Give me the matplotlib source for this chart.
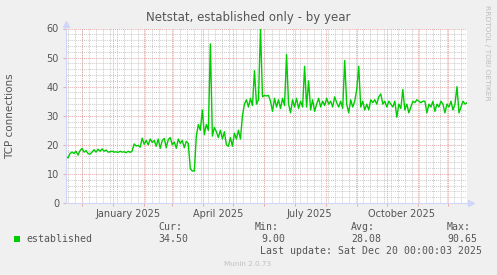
import matplotlib
matplotlib.use('Agg')
import matplotlib.pyplot as plt
from matplotlib.patches import Rectangle
from matplotlib.lines import Line2D
import numpy as np
import pandas as pd

# ---------------- data ----------------
start_date = "2024-11-15"
end_date = "2025-12-20"
step_days = 2
established = [
    16, 15.5, 17, 17.5, 17, 17.8, 16.5, 18, 18.8, 17.5,
    18, 17, 16.8, 17.5, 18.3, 17.5, 18.5, 17.8, 18.6, 17.8,
    18.2, 17.5, 17.6, 17.8, 17.5, 17.6, 17.4, 17.8, 17.5, 17.6,
    17.3, 17.8, 17.4, 17.9, 20.3, 19.6, 19.8, 19.2, 22.3, 20.2,
    21.5, 20, 22, 20.8, 21.5, 19.5, 22, 18.8, 21.5, 22.2,
    19, 21.8, 22.5, 20, 21, 18.8, 22, 20.5, 21.5, 19,
    21.2, 20.5, 11.8, 11, 11, 23, 27, 25, 32, 23.5,
    27, 25, 54.7, 23, 26, 24.5, 22.5, 25, 22, 24.5,
    20, 19.5, 22.5, 19.5, 24, 22, 25, 22, 30, 34,
    35.5, 33, 36, 33.5, 45.5, 34, 35.5, 60, 36.5, 37,
    36.8, 37, 35, 31.5, 36, 33, 35.5, 32.5, 36, 33.5,
    51, 34, 31, 35.5, 33, 36, 32.5, 35, 33, 47,
    33, 42, 32, 35.5, 31.5, 34, 36, 33, 35, 33.5,
    36, 34, 35, 33, 36.5, 34.5, 33, 35, 32.5, 49,
    34, 31, 35.5, 33, 35, 39, 47, 33, 35, 32,
    34, 32, 35.5, 34.5, 35.5, 34, 36.5, 37.5, 34, 35,
    33, 35, 34, 33, 35, 29.5, 34, 32.5, 39, 32,
    34, 31, 33, 35, 34.5, 35.5, 35, 34.5, 35, 35,
    31, 34, 33, 35, 31.5, 34, 33, 35, 34, 31,
    34, 33, 35, 32, 34, 40, 31, 33, 35, 34, 34.5,
]
title = "Netstat, established only - by year"
ylabel = "TCP connections"
x_labels = ["January 2025", "April 2025", "July 2025", "October 2025"]
x_label_dates = ["2025-01-16", "2025-04-16", "2025-07-16", "2025-10-16"]
y_ticks = [0, 10, 20, 30, 40, 50, 60]
legend_name = "established"
stat_names = ["Cur:", "Min:", "Avg:", "Max:"]
stat_values = ["34.50", "9.00", "28.08", "90.65"]
last_update = "Last update: Sat Dec 20 00:00:03 2025"
footer = "Munin 2.0.73"
side_text = "RRDTOOL / TOBI OETIKER"

# ---------------- layout ----------------
W, H = 497, 275
def fx(px): return px / W
def fy(py): return 1 - py / H

BACK = '#F0F0F0'
AXIS = '#CFD6F8'
FONT = '#555555'
GREEN = '#00CC00'
MGRID = '#E8A8A8'
GRID = '#CACACA'

fig = plt.figure(figsize=(W / 100, H / 100), dpi=100, facecolor=BACK)
ax = fig.add_axes([fx(66), fy(203), fx(467) - fx(66), fy(28.5) - fy(203)])
ax.set_facecolor('white')

dates = pd.date_range(start_date, end_date, freq=f"{step_days}D")
assert len(dates) == len(established)
t0, t1 = pd.Timestamp(start_date), pd.Timestamp(end_date)

dot = (0, (1, 1))
# vertical grid
for d in pd.date_range(t0, t1, freq='W-SUN'):
    ax.axvline(d, color=GRID, lw=0.7, ls=dot, zorder=1)
for d in pd.date_range('2024-12-01', t1, freq='MS'):
    ax.axvline(d, color=MGRID, lw=0.7, ls=dot, zorder=2)
# horizontal grid
for v in np.arange(0, 61, 2):
    if v % 10:
        ax.axhline(v, color=GRID, lw=0.7, ls=dot, zorder=1)
for v in y_ticks[1:]:
    ax.axhline(v, color=MGRID, lw=0.7, ls=dot, zorder=2)

ax.plot(dates, established, color=GREEN, lw=1.0, zorder=5)

ax.set_xlim(t0, t1)
ax.set_ylim(0, 60)
ax.set_yticks(y_ticks)
ax.set_yticklabels([str(v) for v in y_ticks])
ax.set_xticks(pd.to_datetime(x_label_dates))
ax.set_xticklabels(x_labels)
ax.set_xticks(pd.date_range('2024-12-01', t1, freq='MS'), minor=True)
ax.tick_params(axis='x', which='major', length=0, pad=4, labelsize=7, labelcolor=FONT)
ax.tick_params(axis='x', which='minor', length=2, color=MGRID, width=0.7)
ax.tick_params(axis='y', which='major', length=2, color=MGRID, width=0.7, pad=3,
               labelsize=7, labelcolor=FONT)

for s in ['top', 'right']:
    ax.spines[s].set_visible(False)
for s in ['left', 'bottom']:
    ax.spines[s].set_color(AXIS)
    ax.spines[s].set_linewidth(0.8)
    ax.spines[s].set_zorder(6)

# axis extensions and arrows
fig.add_artist(Line2D([fx(467), fx(470)], [fy(203), fy(203)], color=AXIS, lw=0.8))
fig.add_artist(Line2D([fx(66), fx(66)], [fy(28.5), fy(25)], color=AXIS, lw=0.8))
fig.add_artist(Line2D([fx(471)], [fy(203)], marker='>', color=AXIS, ms=4, mec=AXIS))
fig.add_artist(Line2D([fx(66)], [fy(24)], marker='^', color=AXIS, ms=4, mec=AXIS))

# texts
fig.text(fx(248.5), fy(18), title, ha='center', va='center', fontsize=8.5, color=FONT)
fig.text(fx(10), fy(116), ylabel, ha='center', va='center', rotation=90,
         fontsize=7.5, color=FONT)
fig.text(fx(487), fy(53), side_text, ha='center', va='center', rotation=270,
         fontsize=5.4, color='#BDBDBD')

mono = 'DejaVu Sans Mono'
fs = 7.15
fig.patches.append(Rectangle((fx(14), fy(242)), fx(6), 6 / H, transform=fig.transFigure,
                             facecolor=GREEN, edgecolor=GREEN, lw=0))
fig.text(fx(26), fy(239.5), legend_name, ha='left', va='center', family=mono,
         fontsize=fs, color=FONT)
label_x = [158, 255, 351, 447]
value_right = [188, 285, 381, 477]
for name, lx, val, vr in zip(stat_names, label_x, stat_values, value_right):
    fig.text(fx(lx), fy(227.5), name, ha='left', va='center', family=mono,
             fontsize=fs, color=FONT)
    fig.text(fx(vr), fy(239.5), val, ha='right', va='center', family=mono,
             fontsize=fs, color=FONT)
fig.text(fx(482.5), fy(251.5), last_update, ha='right', va='center', family=mono,
         fontsize=fs, color=FONT)
fig.text(fx(247.7), fy(264), footer, ha='center', va='center', fontsize=5.2,
         color='#C0C0C0')

fig.savefig('out.png', dpi=100, facecolor=BACK)
